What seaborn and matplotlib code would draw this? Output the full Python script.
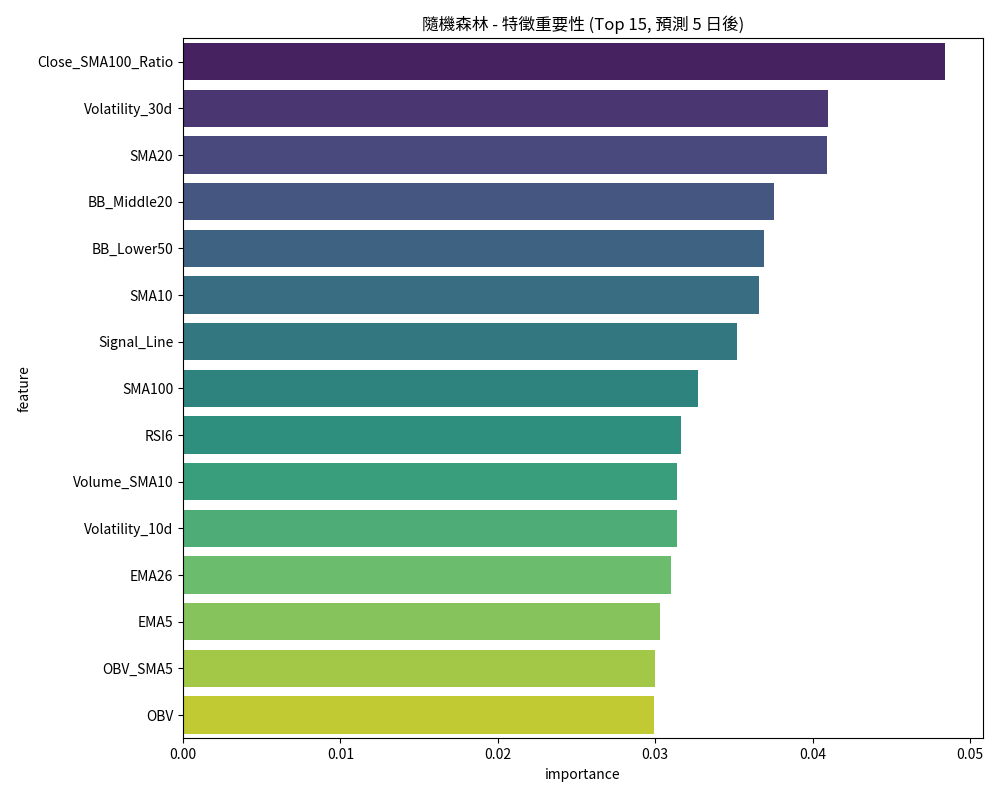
import matplotlib
matplotlib.use("Agg")
import matplotlib.pyplot as plt
import seaborn as sns
import pandas as pd

features = ["Close_SMA100_Ratio", "Volatility_30d", "SMA20", "BB_Middle20", "BB_Lower50",
            "SMA10", "Signal_Line", "SMA100", "RSI6", "Volume_SMA10", "Volatility_10d",
            "EMA26", "EMA5", "OBV_SMA5", "OBV"]
importance = [0.04841, 0.04099, 0.04093, 0.03756, 0.03693, 0.03661, 0.03522, 0.03274,
              0.03166, 0.03141, 0.03141, 0.03103, 0.03033, 0.03001, 0.02995]

df = pd.DataFrame({"feature": features, "importance": importance})

plt.rcParams['font.family'] = ['Noto Sans CJK TC', 'DejaVu Sans']
fig, ax = plt.subplots(figsize=(10, 8), dpi=100)
sns.barplot(data=df, x="importance", y="feature", hue="feature", palette="viridis",
            legend=False, ax=ax)
ax.set_title("隨機森林 - 特徵重要性 (Top 15, 預測 5 日後)")
fig.subplots_adjust(left=0.183, right=0.983, top=0.952, bottom=0.077)
fig.savefig("out.png")
